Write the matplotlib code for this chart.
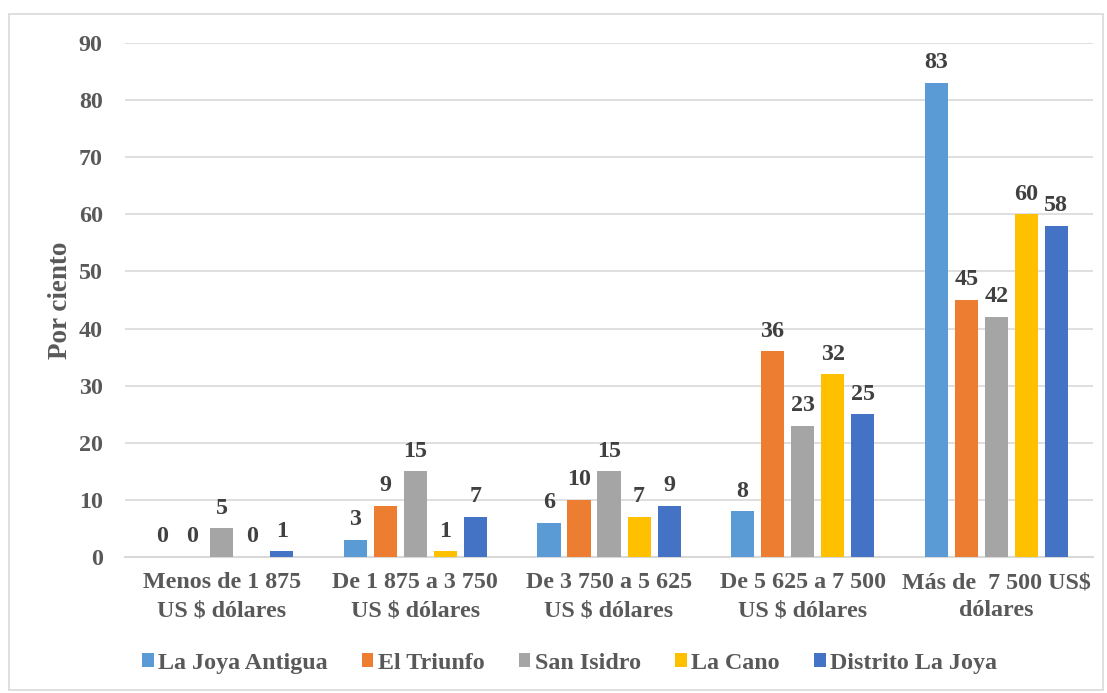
import numpy as np
import matplotlib.pyplot as plt
from matplotlib.patches import Rectangle

plt.rcParams['font.family'] = ['Liberation Serif', 'DejaVu Serif']
plt.rcParams['font.weight'] = 'bold'

categories = ['Menos de 1 875\nUS $ dólares', 'De 1 875 a 3 750\nUS $ dólares',
              'De 3 750 a 5 625\nUS $ dólares', 'De 5 625 a 7 500\nUS $ dólares',
              'Más de  7 500 US$\ndólares']
series = ['La Joya Antigua', 'El Triunfo', 'San Isidro', 'La Cano', 'Distrito La Joya']
la_joya_antigua = [0, 3, 6, 8, 83]
el_triunfo = [0, 9, 10, 36, 45]
san_isidro = [5, 15, 15, 23, 42]
la_cano = [0, 1, 7, 32, 60]
distrito_la_joya = [1, 7, 9, 25, 58]
values = [la_joya_antigua, el_triunfo, san_isidro, la_cano, distrito_la_joya]
colors = ['#5B9BD5', '#ED7D31', '#A5A5A5', '#FFC000', '#4472C4']

FS = 17.3

fig = plt.figure(figsize=(11.07, 6.93), dpi=100)
ax = fig.add_axes([0.1129, 0.1962, 0.8745, 0.7418])

# chart border
fig.patches.append(Rectangle((0.008, 0.004), 0.988, 0.976, transform=fig.transFigure,
                             fill=False, edgecolor='#D9D9D9', linewidth=1.2))

x = np.arange(len(categories))
step = 0.155
width = 0.119
for i, (name, vals, c) in enumerate(zip(series, values, colors)):
    pos = x + (i - 2) * step
    bars = ax.bar(pos, vals, width, color=c, label=name, zorder=3)
    for b, v in zip(bars, vals):
        ax.text(b.get_x() + b.get_width() / 2, v + 1.7, str(v), ha='center', va='bottom',
                fontsize=FS, fontweight='bold', color='#404040')

ax.set_xlim(-0.5, len(categories) - 0.5)
ax.set_ylim(0, 90)
ax.set_yticks(range(0, 91, 10))
ax.yaxis.grid(True, color='#D9D9D9', linewidth=1.2, zorder=0)
for s in ['top', 'right', 'left']:
    ax.spines[s].set_visible(False)
ax.spines['bottom'].set_color('#D9D9D9')
ax.spines['bottom'].set_linewidth(1.5)
ax.tick_params(length=0)
ax.tick_params(axis='y', pad=16, labelsize=FS, labelcolor='#595959')
ax.tick_params(axis='x', pad=11, labelsize=FS, labelcolor='#595959')
ax.set_xticks(x)
ax.set_xticklabels(categories, linespacing=1.42)
for t in ax.get_yticklabels() + ax.get_xticklabels():
    t.set_fontweight('bold')

ax.set_ylabel('Por ciento', fontsize=19.5, fontweight='bold', color='#595959', labelpad=4)

fig.legend(loc='center', bbox_to_anchor=(0.5145, 0.043), ncol=5, frameon=False,
           prop={'size': FS, 'weight': 'bold'}, handlelength=0.49, handleheight=0.49,
           handletextpad=0.2, columnspacing=1.4, labelcolor='#595959')

fig.savefig('out.png', dpi=100)
